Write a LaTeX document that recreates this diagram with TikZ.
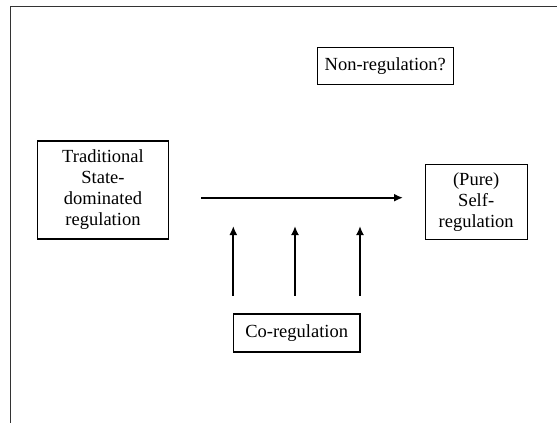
\documentclass[tikz,border=0pt]{standalone}
\usepackage{fontspec}
\setmainfont{Liberation Serif}
\usetikzlibrary{arrows.meta}
\begin{document}
\begin{tikzpicture}[x=1pt,y=-1pt,
  box/.style={draw,line width=1.2pt,inner sep=0pt,align=center,
    font=\fontsize{18.5}{21}\selectfont},
  conn/.style={line width=1.8pt,-{Latex[length=9pt,width=8pt]}},
  frame/.style={draw=black!80,line width=1pt}]
\useasboundingbox (0,0) rectangle (557,423);
\draw[frame] (557,6) -- (10.5,6) -- (10.5,423);
\node[box,minimum width=136pt,minimum height=37pt] (non) at (385.3,66.3) {Non-regulation?};
\node[box,minimum width=130.6pt,minimum height=98pt] (trad) at (103,190) {Traditional\\State-\\dominated\\regulation};
\node[box,minimum width=102pt,minimum height=75pt] (self) at (476.2,201.8) {(Pure)\\Self-\\regulation};
\node[box,minimum width=126.7pt,minimum height=38pt] (co) at (296.7,333) {Co-regulation};
\coordinate (hs) at (201,197.7);
\coordinate (he) at (403,197.7);
\coordinate (a1) at (233.3,295.7);
\coordinate (b1) at (233.3,226);
\coordinate (a2) at (295,295.7);
\coordinate (b2) at (295,226);
\coordinate (a3) at (360,295.7);
\coordinate (b3) at (360,226);
\draw[conn] (hs) -- (he);
\draw[conn] (a1) -- (b1);
\draw[conn] (a2) -- (b2);
\draw[conn] (a3) -- (b3);
\end{tikzpicture}
\end{document}
